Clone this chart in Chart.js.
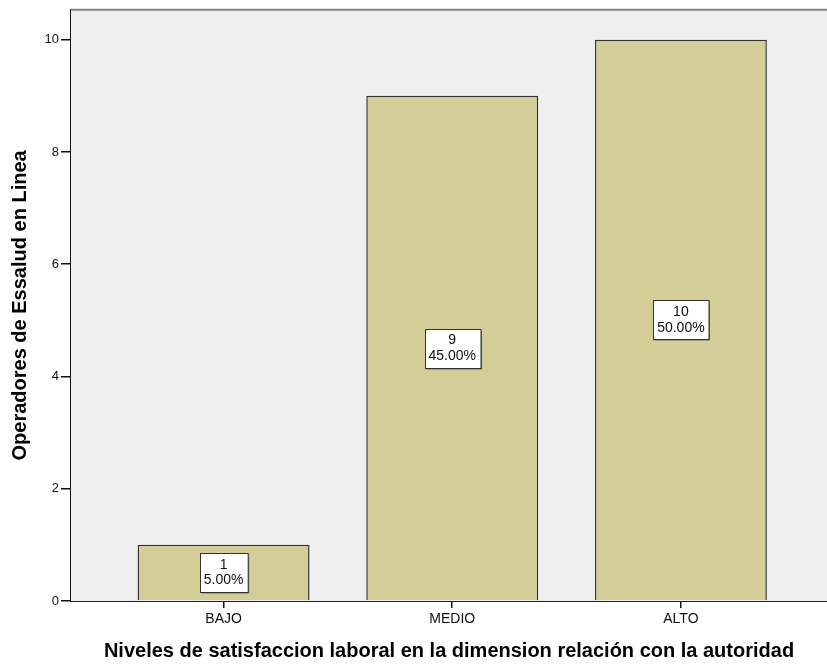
<!DOCTYPE html>
<html>
<head>
<meta charset="utf-8">
<script src="https://cdn.jsdelivr.net/npm/chart.js@4/dist/chart.umd.min.js"></script>
<style>
  html, body { margin: 0; padding: 0; background: #ffffff; overflow: hidden; }
  #wrap { width: 827px; height: 664px; position: relative; }
</style>
</head>
<body>
<div id="wrap"><canvas id="c" width="827" height="664"></canvas></div>
<script>
// Satisfaction levels and number of operators in each
const categories = ['BAJO', 'MEDIO', 'ALTO'];
const counts = [1, 9, 10];
const yTickValues = [0, 2, 4, 6, 8, 10];
const yTitle = 'Operadores de Essalud en Linea';
const xTitle = 'Niveles de satisfaccion laboral en la dimension relación con la autoridad';

const total = counts.reduce((a, b) => a + b, 0);
const points = counts.map((v, i) => ({ x: i, y: v }));

// Plot background and the grey frame line along the top
const plotFrame = {
  id: 'plotFrame',
  beforeDatasetsDraw(chart) {
    const { ctx, chartArea: a } = chart;
    ctx.save();
    ctx.fillStyle = '#efefef';
    ctx.fillRect(a.left, a.top, a.right - a.left, a.bottom - a.top);
    ctx.strokeStyle = '#858585';
    ctx.lineWidth = 2;
    ctx.beginPath();
    ctx.moveTo(a.left, a.top);
    ctx.lineTo(a.right, a.top);
    ctx.stroke();
    ctx.restore();
  }
};

// Count / percentage boxes centred in each bar
const valueBoxes = {
  id: 'valueBoxes',
  afterDatasetsDraw(chart) {
    const { ctx } = chart;
    const meta = chart.getDatasetMeta(0);
    ctx.save();
    ctx.font = '14px "Liberation Sans", Arial, sans-serif';
    ctx.textAlign = 'center';
    ctx.textBaseline = 'middle';
    meta.data.forEach((bar, i) => {
      const v = counts[i];
      const l1 = String(v);
      const l2 = (v / total * 100).toFixed(2) + '%';
      const w = Math.max(ctx.measureText(l1).width, ctx.measureText(l2).width) + 8;
      const h = 39;
      const cx = bar.x;
      const cy = (bar.y + bar.base) / 2;
      const x0 = Math.round(cx - w / 2) + 0.5;
      const y0 = Math.round(cy - h / 2) + 0.5;
      ctx.fillStyle = '#6a6a6a';
      ctx.fillRect(x0 + 1, y0 + 1, w, h);
      ctx.fillStyle = '#ffffff';
      ctx.fillRect(x0, y0, w, h);
      ctx.strokeStyle = '#333333';
      ctx.lineWidth = 1;
      ctx.strokeRect(x0, y0, w, h);
      ctx.fillStyle = '#111111';
      ctx.fillText(l1, cx, cy - 7.5);
      ctx.fillText(l2, cx, cy + 8);
    });
    ctx.restore();
  }
};

new Chart(document.getElementById('c'), {
  type: 'bar',
  data: {
    datasets: [{
      data: points,
      backgroundColor: '#d3ce97',
      borderColor: '#333333',
      borderWidth: 1.5,
      categoryPercentage: 1,
      barPercentage: 0.752
    }]
  },
  options: {
    responsive: false,
    animation: false,
    devicePixelRatio: 1,
    layout: { padding: { left: 0, right: 0, top: 8, bottom: 0 } },
    plugins: { legend: { display: false }, tooltip: { enabled: false } },
    scales: {
      x: {
        type: 'linear',
        offset: false,
        min: -0.6674,
        max: 2.639,
        afterBuildTicks(axis) { axis.ticks = categories.map((_, i) => ({ value: i })); },
        afterFit(axis) { axis.height = 63; },
        grid: { display: true, offset: false, drawOnChartArea: false, tickLength: 7, color: '#111', lineWidth: 1.5 },
        border: { display: true, color: '#222', width: 2 },
        ticks: {
          autoSkip: false,
          maxRotation: 0,
          padding: 3,
          color: '#111',
          font: { family: '"Liberation Sans", Arial, sans-serif', size: 14 },
          callback: (v) => categories[v] ?? ''
        },
        title: {
          display: true,
          text: xTitle,
          color: '#000',
          padding: { top: 0, bottom: 1 },
          font: { family: '"Liberation Sans", Arial, sans-serif', size: 20, weight: 'bold' }
        }
      },
      y: {
        min: 0,
        max: 10.533,
        afterBuildTicks(axis) { axis.ticks = yTickValues.map(v => ({ value: v })); },
        afterFit(axis) { axis.width = 71; },
        grid: { display: true, drawOnChartArea: false, tickLength: 10, color: '#111', lineWidth: 1.5 },
        border: { display: true, color: '#111', width: 2 },
        ticks: {
          padding: 2,
          color: '#111',
          font: { family: '"Liberation Sans", Arial, sans-serif', size: 13 }
        },
        title: {
          display: true,
          text: yTitle,
          color: '#000',
          padding: { top: 8, bottom: 0 },
          font: { family: '"Liberation Sans", Arial, sans-serif', size: 20, weight: 'bold' }
        }
      }
    }
  },
  plugins: [plotFrame, valueBoxes]
});
</script>
</body>
</html>
